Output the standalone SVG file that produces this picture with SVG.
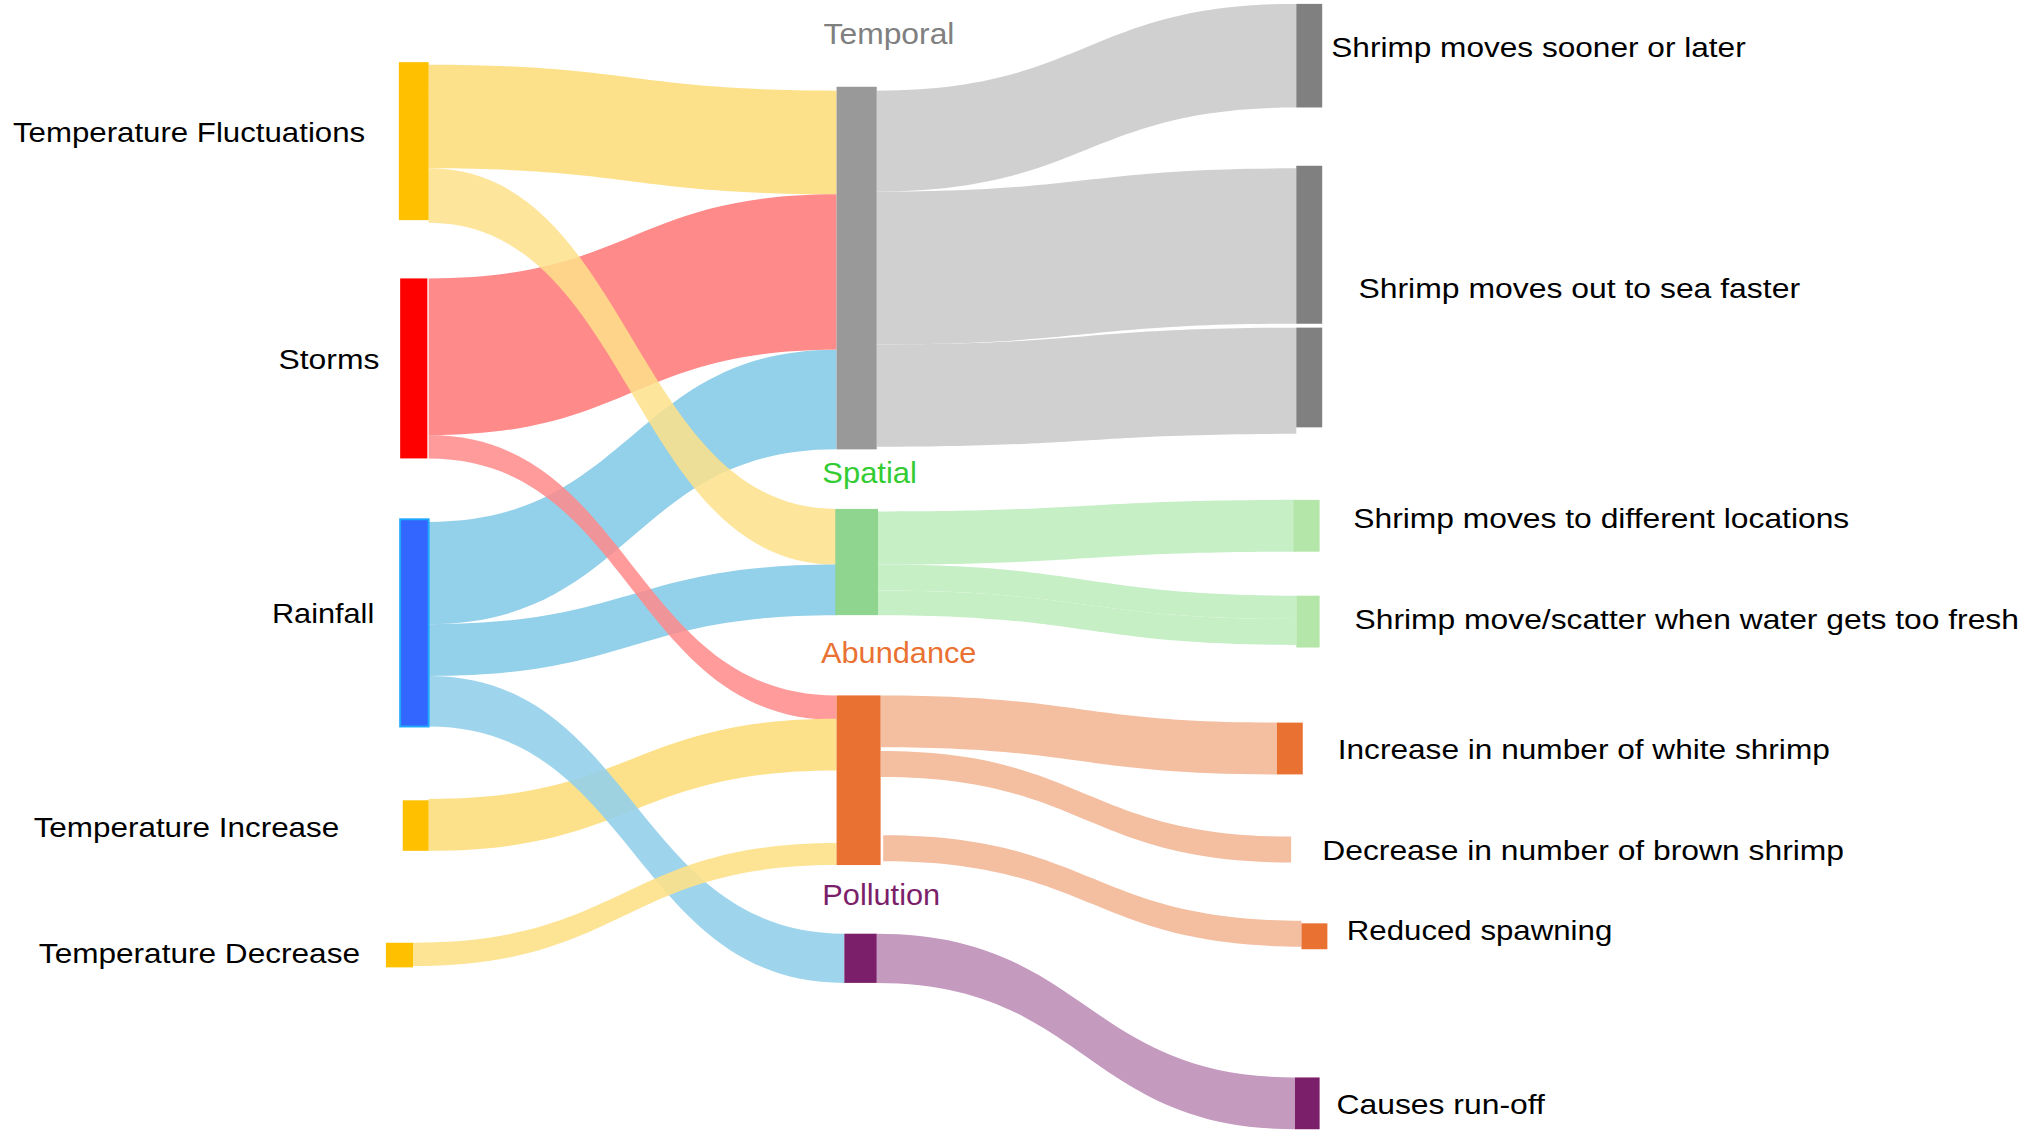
<svg xmlns="http://www.w3.org/2000/svg" width="2024" height="1133" viewBox="0 0 2024 1133">
<style>
text{font-family:"Liberation Sans",Arial,sans-serif;font-size:22px;fill:#000}
.y{fill:#FDE18A}.r{fill:#FF8A8A}.b{fill:#93D0EA}.g{fill:#D0D0D0}.lg{fill:#C6EFC6}.o{fill:#F4BEA0}.p{fill:#C49ABF}
.mid{font-size:23px}
</style>
<rect width="2024" height="1133" fill="#fff"/>
<g transform="scale(1.295)">
<g id="connectors" opacity="1">
<path class="y" d="M331 50 C488 50 488 70 646 70 L646 150 C488 150 488 130 331 130Z"/>
<path class="r" d="M331 215 C488 215 488 150 646 150 L646 270 C488 270 488 336 331 336Z"/>
<path class="b" d="M331 403 C488 403 488 270 646 270 L646 347 C488 347 488 482 331 482Z"/>
<path class="y" d="M331 130 C488 130 488 393 646 393 L646 436 C488 436 488 172 331 172Z" opacity="0.85"/>
<path class="b" d="M331 482 C488 482 488 436 646 436 L646 475 C488 475 488 522 331 522Z"/>
<path class="r" d="M331 336 C488 336 488 537 646 537 L646 556 C488 556 488 354 331 354Z" opacity="0.85"/>
<path class="y" d="M331 617 C488 617 488 555 646 555 L646 595 C488 595 488 657 331 657Z"/>
<path class="b" d="M331 522 C490 522 490 721 652 721 L652 759 C490 759 490 561 331 561Z" opacity="0.9"/>
<path class="y" d="M319 728 C482 728 482 651 646 651 L646 668 C482 668 482 746 319 746Z" opacity="0.9"/>
<path class="g" d="M677 70 C839 70 839 3 1001 3 L1001 83 C839 83 839 148 677 148Z"/>
<path class="g" d="M677 148 C839 148 839 130 1001 130 L1001 250 C839 250 839 266 677 266Z"/>
<path class="g" d="M677 266 C839 266 839 253 1001 253 L1001 335 C839 335 839 345 677 345Z"/>
<path class="lg" d="M678 395 C839 395 839 386 1000 386 L1000 426 C839 426 839 436 678 436Z"/>
<path class="lg" d="M678 436 C839 436 839 460 1001 460 L1001 478 C839 478 839 456 678 456Z"/>
<path class="lg" d="M678 456 C839 456 839 478 1001 478 L1001 498 C839 498 839 475 678 475Z"/>
<path class="o" d="M680 537 C833 537 833 558 986 558 L986 598 C833 598 833 577 680 577Z"/>
<path class="o" d="M680 580 C838 580 838 646 997 646 L997 666 C838 666 838 600 680 600Z"/>
<path class="o" d="M682 645 C843 645 843 711 1005 711 L1005 731 C843 731 843 665 682 665Z"/>
<path class="p" d="M677 721 C838 721 838 832 1000 832 L1000 872 C838 872 838 759 677 759Z"/>
</g>
<g id="tf"><rect x="308" y="48" width="23" height="122" fill="#FFC000"/><text x="10" y="110" textLength="272" lengthAdjust="spacingAndGlyphs">Temperature Fluctuations</text></g>
<g id="storms"><rect x="309" y="215" width="21" height="139" fill="#FF0000"/><text x="215" y="285" textLength="78" lengthAdjust="spacingAndGlyphs">Storms</text></g>
<g id="rainfall"><rect x="309" y="401" width="22" height="160" fill="#3366FF" stroke="#1EA7FF" stroke-width="1.5"/><text x="210" y="481" textLength="79" lengthAdjust="spacingAndGlyphs">Rainfall</text></g>
<g id="ti"><rect x="311" y="618" width="20" height="39" fill="#FFC000"/><text x="26" y="646" textLength="236" lengthAdjust="spacingAndGlyphs">Temperature Increase</text></g>
<g id="td"><rect x="298" y="728" width="21" height="19" fill="#FFC000"/><text x="30" y="744" textLength="248" lengthAdjust="spacingAndGlyphs">Temperature Decrease</text></g>
<g id="temporal"><rect x="646" y="67" width="31" height="280" fill="#999"/><text class="mid" x="636" y="34" fill="#808080" style="fill:#808080" textLength="101" lengthAdjust="spacingAndGlyphs">Temporal</text></g>
<g id="spatial"><rect x="645" y="393" width="33" height="82" fill="#8FD48F"/><text class="mid" x="635" y="373" style="fill:#33CC33" textLength="73" lengthAdjust="spacingAndGlyphs">Spatial</text></g>
<g id="abundance"><rect x="646" y="537" width="34" height="131" fill="#E97132"/><text class="mid" x="634" y="512" style="fill:#E97132" textLength="120" lengthAdjust="spacingAndGlyphs">Abundance</text></g>
<g id="pollution"><rect x="652" y="721" width="25" height="38" fill="#7B1F6A"/><text class="mid" x="635" y="699" style="fill:#7B1F6A" textLength="91" lengthAdjust="spacingAndGlyphs">Pollution</text></g>
<g id="sooner"><rect x="1001" y="3" width="20" height="80" fill="#808080"/><text x="1028" y="44" textLength="320" lengthAdjust="spacingAndGlyphs">Shrimp moves sooner or later</text></g>
<g id="outtosea"><rect x="1001" y="128" width="20" height="122" fill="#808080"/><rect x="1001" y="253" width="20" height="77" fill="#808080"/><text x="1049" y="230" textLength="341" lengthAdjust="spacingAndGlyphs">Shrimp moves out to sea faster</text></g>
<g id="different"><rect x="999" y="386" width="20" height="40" fill="#B3E6A8"/><text x="1045" y="408" textLength="383" lengthAdjust="spacingAndGlyphs">Shrimp moves to different locations</text></g>
<g id="scatter"><rect x="1001" y="460" width="18" height="40" fill="#B3E6A8"/><text x="1046" y="486" textLength="513" lengthAdjust="spacingAndGlyphs">Shrimp move/scatter when water gets too fresh</text></g>
<g id="white"><rect x="986" y="558" width="20" height="40" fill="#E97132"/><text x="1033" y="586" textLength="380" lengthAdjust="spacingAndGlyphs">Increase in number of white shrimp</text></g>
<g id="brown"><text x="1021" y="664" textLength="403" lengthAdjust="spacingAndGlyphs">Decrease in number of brown shrimp</text></g>
<g id="spawning"><rect x="1005" y="713" width="20" height="20" fill="#E97132"/><text x="1040" y="726" textLength="205" lengthAdjust="spacingAndGlyphs">Reduced spawning</text></g>
<g id="runoff"><rect x="1000" y="832" width="19" height="40" fill="#7B1F6A"/><text x="1032" y="860" textLength="161" lengthAdjust="spacingAndGlyphs">Causes run-off</text></g>
</g>
</svg>
